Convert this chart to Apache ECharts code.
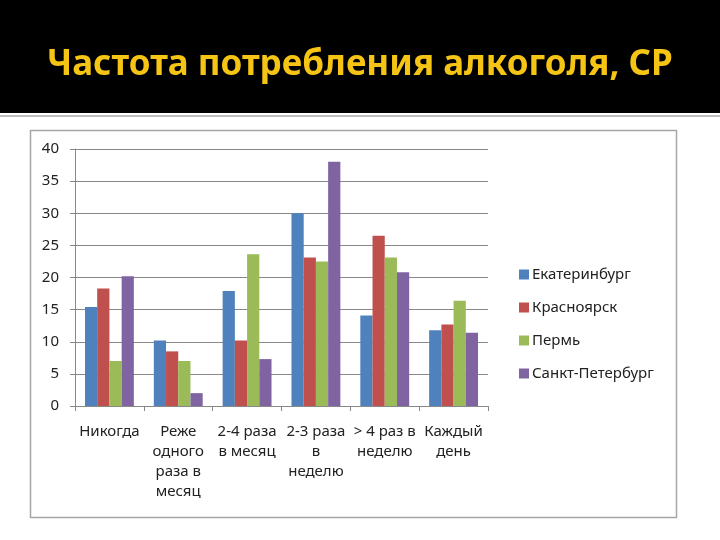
<!DOCTYPE html>
<html><head><meta charset="utf-8">
<script src="https://cdn.jsdelivr.net/npm/echarts@6/dist/echarts.min.js"></script>
<style>html,body{margin:0;padding:0;background:#fff}#c{width:720px;height:540px}</style>
</head><body><div id="c"></div>
<script>
const categories = ['Никогда', 'Реже\nодного\nраза в\nмесяц', '2-4 раза\nв месяц', '2-3 раза\nв\nнеделю', '> 4 раз в\nнеделю', 'Каждый\nдень'];
const seriesNames = ['Екатеринбург', 'Красноярск', 'Пермь', 'Санкт-Петербург'];
const ekaterinburg = [15.4, 10.2, 17.9, 30.0, 14.1, 11.8];
const krasnoyarsk = [18.3, 8.5, 10.2, 23.1, 26.5, 12.7];
const perm = [7.0, 7.0, 23.6, 22.5, 23.1, 16.4];
const spb = [20.2, 2.0, 7.3, 38.0, 20.8, 11.4];
const colors = ['#4F81BD', '#C0504D', '#9BBB59', '#8064A2'];
const values = [ekaterinburg, krasnoyarsk, perm, spb];

const chart = echarts.init(document.getElementById('c'));
const font = 'Noto Sans';
chart.setOption({
  animation: false,
  backgroundColor: '#fff',
  title: {
    text: 'Частота потребления алкоголя, СР',
    left: 'center', top: 43,
    textStyle: { color: '#F5C414', fontSize: 35, fontWeight: 'bold', fontFamily: font }
  },
  graphic: [
    { type: 'rect', z: -10, shape: { x: 0, y: 0, width: 720, height: 113 }, style: { fill: '#000' } },
    { type: 'rect', z: -10, shape: { x: 0, y: 115, width: 720, height: 2 }, style: { fill: '#bdbdbd' } },
    { type: 'rect', z: -10, shape: { x: 30.5, y: 130.5, width: 646, height: 387 }, style: { fill: 'none', stroke: '#a6a6a6', lineWidth: 1.5 } }
  ],
  legend: {
    orient: 'vertical', left: 514, top: 262,
    itemWidth: 10, itemHeight: 10, itemGap: 18,
    icon: 'rect',
    textStyle: { fontSize: 15, color: '#222', fontFamily: font, padding: [0, 0, 0, -2] },
    data: seriesNames
  },
  grid: { left: 75, right: 232, top: 149, bottom: 134, containLabel: false },
  xAxis: {
    type: 'category', data: categories,
    axisLine: { lineStyle: { color: '#888', width: 1 } },
    axisTick: { show: true, alignWithLabel: false, length: 5, lineStyle: { color: '#888' } },
    axisLabel: { color: '#222', fontSize: 15, fontFamily: font, lineHeight: 20, margin: 16, interval: 0 }
  },
  yAxis: {
    type: 'value', min: 0, max: 40, interval: 5,
    axisLine: { show: true, lineStyle: { color: '#888' } },
    axisTick: { show: true, length: 5, lineStyle: { color: '#888' } },
    splitLine: { lineStyle: { color: '#888', width: 1 } },
    axisLabel: { color: '#222', fontSize: 15, fontFamily: font, margin: 16 }
  },
  series: seriesNames.map((n, i) => ({
    name: n, type: 'bar', data: values[i],
    itemStyle: { color: colors[i] },
    barGap: '0%', barCategoryGap: '29%'
  }))
});
</script></body></html>
